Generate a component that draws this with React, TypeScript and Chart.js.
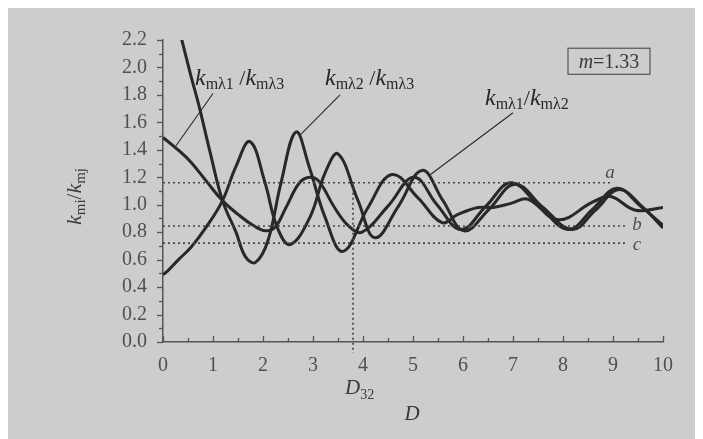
import React, { useEffect, useRef } from 'react';
import { Chart, registerables } from 'chart.js';

Chart.register(...registerables);

// ---- data ----
// k_mλ1 / k_mλ3
const d13 = [0, 0.3, 0.56, 0.87, 1.19, 1.5, 1.8, 2.05, 2.25, 2.46, 2.73, 2.94, 3.12, 3.43, 3.7, 3.98, 4.5, 5.02, 5.48, 5.96, 6.46, 6.96, 7.53, 8.1, 8.6, 9.08, 9.55, 10];
const k13 = [1.49, 1.40, 1.31, 1.17, 1.03, 0.93, 0.85, 0.81, 0.84, 0.98, 1.16, 1.20, 1.17, 0.98, 0.85, 0.80, 0.99, 1.20, 1.00, 0.82, 0.99, 1.16, 0.99, 0.82, 0.97, 1.12, 0.99, 0.85];
// k_mλ1 / k_mλ2
const d12 = [0, 0.1, 0.31, 0.56, 0.87, 1.19, 1.46, 1.74, 2.04, 2.28, 2.54, 2.94, 3.24, 3.5, 3.9, 4.24, 4.71, 5.18, 5.6, 6.02, 6.53, 7.04, 7.6, 8.18, 8.65, 9.12, 9.6, 10];
const k12 = [0.49, 0.52, 0.60, 0.69, 0.84, 1.03, 1.28, 1.46, 1.16, 0.84, 0.71, 0.91, 1.23, 1.37, 1.03, 0.76, 0.99, 1.25, 1.03, 0.81, 0.97, 1.15, 0.98, 0.82, 0.96, 1.11, 0.98, 0.83];
// k_mλ2 / k_mλ3
const d23 = [0.37, 0.55, 0.72, 0.95, 1.19, 1.46, 1.65, 1.85, 2.1, 2.36, 2.66, 2.92, 3.24, 3.6, 4.1, 4.58, 5.1, 5.58, 5.9, 6.3, 6.6, 6.96, 7.3, 7.9, 8.6, 8.95, 9.45, 10];
const k23 = [2.21, 1.95, 1.72, 1.37, 1.03, 0.80, 0.62, 0.58, 0.74, 1.16, 1.53, 1.28, 0.91, 0.66, 0.98, 1.22, 1.05, 0.87, 0.93, 0.98, 0.98, 1.01, 1.04, 0.89, 1.02, 1.06, 0.96, 0.98];

// reference dotted lines a, b, c
const refNames = ['a', 'b', 'c'];
const refValues = [1.16, 0.845, 0.72];
const refEnds = [8.95, 9.25, 9.25];
const d32Value = 3.8;

const xTickStep = 0.5;
const yTickStep = 0.1;

const SERIF = '"Liberation Serif", "DejaVu Serif", serif';
const INK = '#282828';
const GREY = '#505050';

type Part = [string, number, boolean, number];

const label13: Part[] = [['k', 24, true, 0], ['mλ1', 16, false, 4], [' /', 22, false, 0], ['k', 24, true, 0], ['mλ3', 16, false, 4]];
const label23: Part[] = [['k', 24, true, 0], ['mλ2', 16, false, 4], [' /', 22, false, 0], ['k', 24, true, 0], ['mλ3', 16, false, 4]];
const label12: Part[] = [['k', 24, true, 0], ['mλ1', 16, false, 4], ['/', 22, false, 0], ['k', 24, true, 0], ['mλ2', 16, false, 4]];
const yTitle: Part[] = [['k', 22, true, 0], ['mi', 15, false, 4], ['/', 21, false, 0], ['k', 22, true, 0], ['mj', 15, false, 4]];
const d32Label: Part[] = [['D', 21, true, 0], ['32', 14, false, 5]];

function fontOf(p: Part) {
  return `${p[2] ? 'italic ' : ''}${p[1]}px ${SERIF}`;
}

function drawRich(ctx: CanvasRenderingContext2D, x: number, y: number, parts: Part[], center = false) {
  let w = 0;
  for (const p of parts) {
    ctx.font = fontOf(p);
    w += ctx.measureText(p[0]).width;
  }
  let cx = center ? x - w / 2 : x;
  ctx.textAlign = 'left';
  ctx.textBaseline = 'alphabetic';
  for (const p of parts) {
    ctx.font = fontOf(p);
    ctx.fillText(p[0], cx, y + p[3]);
    cx += ctx.measureText(p[0]).width;
  }
}

const decorPlugin = {
  id: 'decor',
  afterDatasetsDraw(chart: any) {
    const ctx: CanvasRenderingContext2D = chart.ctx;
    const xs = chart.scales.x;
    const ys = chart.scales.y;
    const ca = chart.chartArea;
    const X = (v: number) => xs.getPixelForValue(v);
    const Y = (v: number) => ys.getPixelForValue(v);
    ctx.save();

    // tick marks
    ctx.strokeStyle = '#555';
    ctx.lineWidth = 1.3;
    for (let i = 0; i * xTickStep <= 10 + 1e-9; i++) {
      const v = i * xTickStep;
      const len = i % 2 === 0 ? 6 : 4;
      const px = Math.round(X(v)) + 0.5;
      ctx.beginPath();
      ctx.moveTo(px, ca.bottom);
      ctx.lineTo(px, ca.bottom - len);
      ctx.stroke();
    }
    for (let i = 0; i * yTickStep <= 2.2 + 1e-9; i++) {
      const v = i * yTickStep;
      const len = i % 2 === 0 ? 6 : 4;
      const py = Math.round(Y(v)) + 0.5;
      ctx.beginPath();
      ctx.moveTo(ca.left, py);
      ctx.lineTo(ca.left - len, py);
      ctx.stroke();
    }

    // leader lines
    ctx.strokeStyle = INK;
    ctx.lineWidth = 1.1;
    const leaders: [number, number, number, number][] = [
      [1.0, 1.81, 0.26, 1.43],
      [3.54, 1.80, 2.75, 1.51],
      [7.0, 1.67, 5.35, 1.22],
    ];
    for (const l of leaders) {
      ctx.beginPath();
      ctx.moveTo(X(l[0]), Y(l[1]));
      ctx.lineTo(X(l[2]), Y(l[3]));
      ctx.stroke();
    }

    // curve labels
    ctx.fillStyle = INK;
    drawRich(ctx, X(0.64), Y(1.87), label13);
    drawRich(ctx, X(3.24), Y(1.87), label23);
    drawRich(ctx, X(6.44), Y(1.73), label12);

    // m = 1.33 box
    ctx.strokeStyle = '#555';
    ctx.lineWidth = 1.2;
    const bx1 = X(8.1), bx2 = X(9.74), by1 = Y(2.14), by2 = Y(1.95);
    ctx.strokeRect(bx1, by1, bx2 - bx1, by2 - by1);
    ctx.fillStyle = '#3a3a3a';
    drawRich(ctx, (bx1 + bx2) / 2, by2 - 6, [['m', 20, true, 0], ['=1.33', 20, false, 0]], true);

    // a b c labels
    ctx.fillStyle = GREY;
    ctx.font = `italic 19px ${SERIF}`;
    ctx.textAlign = 'center';
    ctx.textBaseline = 'middle';
    const labPos: [number, number][] = [[8.94, 1.23], [9.48, 0.85], [9.48, 0.71]];
    refNames.forEach((n, i) => ctx.fillText(n, X(labPos[i][0]), Y(labPos[i][1])));

    // D32 and D
    ctx.fillStyle = '#3a3a3a';
    drawRich(ctx, X(3.64), Y(-0.38), d32Label);
    drawRich(ctx, X(4.98), Y(-0.57), [['D', 21, true, 0]], true);

    // y title
    ctx.save();
    ctx.translate(ca.left - 90, Y(1.06));
    ctx.rotate(-Math.PI / 2);
    drawRich(ctx, 0, 8, yTitle, true);
    ctx.restore();

    ctx.restore();
  },
};

export default function App() {
  const ref = useRef<HTMLCanvasElement | null>(null);
  useEffect(() => {
    if (!ref.current) return;
    const curve = (d: number[], k: number[]) => ({
      data: d.map((x, i) => ({ x, y: k[i] })),
      borderColor: INK,
      borderWidth: 3,
      pointRadius: 0,
      fill: false,
      tension: 0.4,
    });
    const refSets = refValues.map((v, i) => ({
      data: [{ x: 0, y: v }, { x: refEnds[i], y: v }],
      borderColor: '#474747',
      borderWidth: 1.7,
      borderDash: [2, 3],
      pointRadius: 0,
      fill: false,
    }));
    const chart = new Chart(ref.current, {
      type: 'line',
      data: {
        datasets: [
          ...refSets,
          {
            data: [{ x: d32Value, y: refValues[0] }, { x: d32Value, y: -0.08 }],
            borderColor: '#474747',
            borderWidth: 1.7,
            borderDash: [2, 3],
            pointRadius: 0,
            fill: false,
            clip: false,
          } as any,
          curve(d13, k13),
          curve(d12, k12),
          curve(d23, k23),
        ],
      },
      options: {
        animation: false,
        responsive: false,
        layout: { padding: { top: 32, left: 0, right: 40, bottom: 0 } },
        plugins: { legend: { display: false }, tooltip: { enabled: false } },
        scales: {
          x: {
            type: 'linear',
            min: 0,
            max: 10,
            ticks: {
              stepSize: xTickStep,
              autoSkip: false,
              maxRotation: 0,
              padding: 12,
              color: GREY,
              font: { family: SERIF, size: 20 },
              callback: (v: any) => (Number.isInteger(v) ? String(v) : ''),
            },
            grid: { display: false, drawTicks: false },
            border: { display: true, color: '#555', width: 1.5 },
            afterFit: (s: any) => { s.height = 97; },
          },
          y: {
            type: 'linear',
            min: 0,
            max: 2.2,
            ticks: {
              stepSize: yTickStep,
              autoSkip: false,
              padding: 16,
              color: GREY,
              font: { family: SERIF, size: 20 },
              callback: (v: any) => (Math.round(v * 10) % 2 === 0 ? Number(v).toFixed(1) : ''),
            },
            grid: { display: false, drawTicks: false },
            border: { display: true, color: '#555', width: 1.5 },
            afterFit: (s: any) => { s.width = 155; },
          },
        },
      } as any,
      plugins: [decorPlugin],
    });
    return () => chart.destroy();
  }, []);

  return (
    <div style={{ width: 695, height: 431, background: '#cbcecd' }}>
      <canvas ref={ref} width={695} height={431} style={{ display: 'block' }} />
    </div>
  );
}
